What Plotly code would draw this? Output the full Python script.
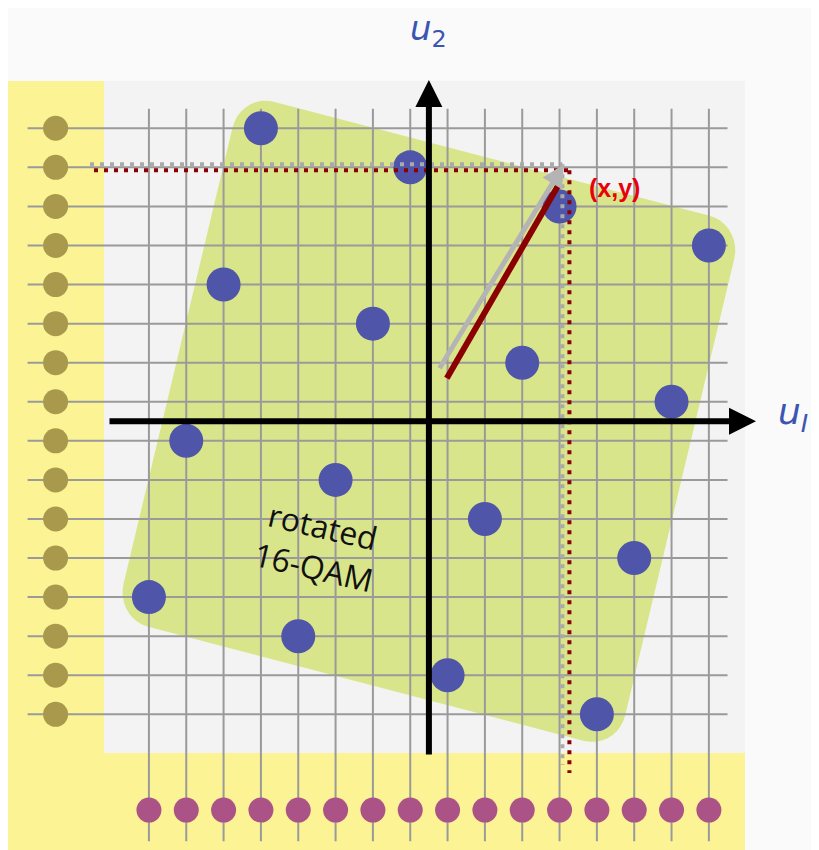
import numpy as np
import plotly.graph_objects as go

# rotated 16-QAM constellation points (grid units, axes cross at 0,0)
qam_x = [-4.5, -0.5, 3.5, 7.5, -5.5, -1.5, 2.5, 6.5, -6.5, -2.5, 1.5, 5.5, -7.5, -3.5, 0.5, 4.5]
qam_y = [7.5, 6.5, 5.5, 4.5, 3.5, 2.5, 1.5, 0.5, -0.5, -1.5, -2.5, -3.5, -4.5, -5.5, -6.5, -7.5]

# grid lines / levels on each axis
grid_levels = [-7.5, -6.5, -5.5, -4.5, -3.5, -2.5, -1.5, -0.5, 0.5, 1.5, 2.5, 3.5, 4.5, 5.5, 6.5, 7.5]

# the point (x,y) and where the vector starts
pt_x, pt_y = 3.67, 6.5
vec_x0, vec_y0 = 0.38, 1.22

# page has an 8px body margin, so the figure is drawn 8px in
PAD = 8
W, H = 819 - PAD, 850 - PAD
# pixel -> data mapping (37.33 px per unit in x, 39.07 in y)
sx, sy = 37.33, 39.07
ox, oy = 428.9 - PAD, 421.3 - PAD
xr = [-ox / sx, (W - ox) / sx]
yr = [(oy - H) / sy, oy / sy]


def px(p):
    return (p - PAD - ox) / sx


def py(p):
    return (oy - (p - PAD)) / sy


fig = go.Figure()

shapes = []
# background tint
shapes.append(dict(type="rect", x0=px(104), x1=px(745), y0=py(753), y1=py(81),
                   fillcolor="#f3f3f3", line_width=0, layer="below"))
# yellow L band
shapes.append(dict(type="rect", x0=px(7), x1=px(104), y0=py(860), y1=py(81),
                   fillcolor="#fbf394", line_width=0, layer="below"))
shapes.append(dict(type="rect", x0=px(104), x1=px(745), y0=py(860), y1=py(753),
                   fillcolor="#fbf394", line_width=0, layer="below"))

# green rounded rotated square around the constellation
s, r = 1.68, 0.22
pts = []
for cx, cy, a0 in [(s - r, s - r, 0), (-(s - r), s - r, 90), (-(s - r), -(s - r), 180), (s - r, -(s - r), 270)]:
    for t in np.linspace(a0, a0 + 90, 10):
        a = cx + r * np.cos(np.radians(t))
        b = cy + r * np.sin(np.radians(t))
        pts.append((4 * a - b, -a - 4 * b))
path = "M " + " L ".join(f"{u:.3f},{v:.3f}" for u, v in pts) + " Z"
shapes.append(dict(type="path", path=path, fillcolor="#d9e58b", line_width=0, layer="below"))

# grid lines
for g in grid_levels:
    shapes.append(dict(type="line", x0=g, x1=g, y0=-10.75, y1=8.0,
                       line=dict(color="#9a9a9a", width=2), layer="below"))
    shapes.append(dict(type="line", x0=-10.75, x1=8.0, y0=g, y1=g,
                       line=dict(color="#9a9a9a", width=2), layer="below"))

# dotted projection lines (gray shadow + dark red)
dx, dy = 3.5 / sx, 3 / sy
shapes.append(dict(type="line", x0=px(90), x1=pt_x - dx, y0=pt_y + dy, y1=pt_y + dy,
                   line=dict(color="#aaaaaa", width=4, dash="4px,6px")))
shapes.append(dict(type="line", x0=px(94), x1=pt_x + dx, y0=pt_y - dy, y1=pt_y - dy,
                   line=dict(color="#8b0000", width=4, dash="4px,6px")))
shapes.append(dict(type="line", x0=pt_x - dx, x1=pt_x - dx, y0=pt_y + dy, y1=py(765),
                   line=dict(color="#aaaaaa", width=4, dash="4px,6px")))
shapes.append(dict(type="line", x0=pt_x + dx, x1=pt_x + dx, y0=pt_y - dy, y1=py(773),
                   line=dict(color="#8b0000", width=4, dash="4px,6px")))

# dark red vector line (under the gray arrow)
shapes.append(dict(type="line", x0=vec_x0 + 0.1, y0=vec_y0 - 0.12,
                   x1=pt_x - 0.2, y1=pt_y - 0.45,
                   line=dict(color="#8b0000", width=6)))

fig.update_layout(shapes=shapes)

# left and bottom marker dots
fig.add_trace(go.Scatter(x=[-10] * len(grid_levels), y=grid_levels, mode="markers",
                         marker=dict(size=25, color="#a8994c"), hoverinfo="skip"))
fig.add_trace(go.Scatter(x=grid_levels, y=[-9.95] * len(grid_levels), mode="markers",
                         marker=dict(size=25, color="#ab5287"), hoverinfo="skip"))

# constellation
fig.add_trace(go.Scatter(x=qam_x, y=qam_y, mode="markers",
                         marker=dict(size=34, color="#4f55a8"), hoverinfo="skip"))

ann = []
# axes with arrows
ann.append(dict(x=px(756), y=0, ax=px(108), ay=0, xref="x", yref="y", axref="x", ayref="y",
                showarrow=True, arrowhead=2, arrowsize=0.9, arrowwidth=6, arrowcolor="#000000", text=""))
ann.append(dict(x=0, y=py(80), ax=0, ay=py(756), xref="x", yref="y", axref="x", ayref="y",
                showarrow=True, arrowhead=2, arrowsize=0.9, arrowwidth=6, arrowcolor="#000000", text=""))
# gray vector arrow
ann.append(dict(x=pt_x - 0.05, y=pt_y + 0.08, ax=vec_x0 - 0.12, ay=vec_y0 + 0.1,
                xref="x", yref="y", axref="x", ayref="y",
                showarrow=True, arrowhead=2, arrowsize=0.9, arrowwidth=5, arrowcolor="#b4b4b4", text=""))
# labels
ann.append(dict(x=px(428), y=py(30), xref="x", yref="y", text="<i>u</i><sub>2</sub>", showarrow=False,
                font=dict(family="DejaVu Sans", size=34, color="#3b55b0")))
ann.append(dict(x=px(776), y=py(414), xref="x", yref="y", xanchor="left",
                text="<i>u</i><i><sub>I</sub></i>",
                showarrow=False, font=dict(family="DejaVu Sans", size=36, color="#3b55b0")))
ann.append(dict(x=px(614), y=py(188), xref="x", yref="y", text="<b>(x,y)</b>",
                showarrow=False, font=dict(family="Liberation Sans", size=25, color="#e8000b")))
ann.append(dict(x=px(318), y=py(546), xref="x", yref="y", text="rotated<br>16-QAM",
                showarrow=False, textangle=13,
                font=dict(family="Open Sans", size=32, color="#111111")))
fig.update_layout(annotations=ann)

fig.update_layout(
    width=W, height=H, autosize=False,
    margin=dict(l=0, r=0, t=0, b=0),
    paper_bgcolor="#fafafa", plot_bgcolor="#fafafa",
    showlegend=False,
    xaxis=dict(range=xr, visible=False, fixedrange=True),
    yaxis=dict(range=yr, visible=False, fixedrange=True),
)

fig.write_html("out.html")
